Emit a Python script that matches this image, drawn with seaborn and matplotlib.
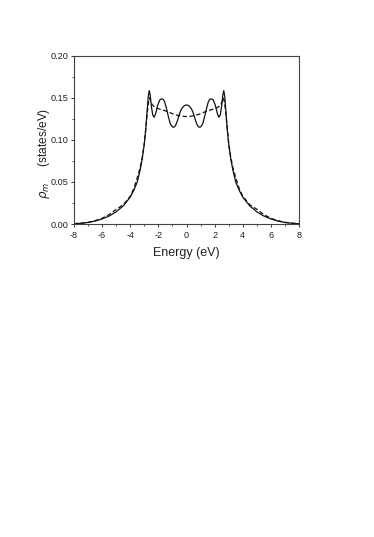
import numpy as np
import pandas as pd
import matplotlib
matplotlib.use("Agg")
import matplotlib.pyplot as plt
from matplotlib.ticker import MultipleLocator
import seaborn as sns

# Solid curve (half, x <= 0), mirrored for x > 0
solid_x_half = [-8.0, -7.5, -7.0, -6.5, -6.0, -5.5, -5.0, -4.5, -4.0, -3.75, -3.5, -3.3,
                -3.15, -3.0, -2.9, -2.8, -2.72, -2.65, -2.58, -2.5, -2.4, -2.3, -2.2,
                -2.05, -1.9, -1.75, -1.65, -1.55, -1.42, -1.28, -1.15, -1.02, -0.9,
                -0.78, -0.65, -0.5, -0.35, -0.2, -0.1, 0.0]
solid_y_half = [0.0003, 0.0008, 0.0018, 0.0035, 0.0060, 0.0095, 0.0145, 0.0215, 0.0320,
                0.0400, 0.0500, 0.0640, 0.0770, 0.0950, 0.1120, 0.1340, 0.1515, 0.1585,
                0.1530, 0.1400, 0.1295, 0.1268, 0.1310, 0.1410, 0.1475, 0.1488, 0.1480,
                0.1450, 0.1370, 0.1270, 0.1190, 0.1155, 0.1150, 0.1170, 0.1225, 0.1310,
                0.1370, 0.1400, 0.1411, 0.1414]

# Dashed curve (half, x <= 0), mirrored for x > 0
dash_x_half = [-8.0, -7.5, -7.0, -6.5, -6.0, -5.5, -5.0, -4.5, -4.0, -3.75, -3.5, -3.3,
               -3.15, -3.0, -2.9, -2.8, -2.7, -2.62, -2.55, -2.45, -2.3, -2.1, -1.8,
               -1.5, -1.2, -0.9, -0.6, -0.3, 0.0]
dash_y_half = [0.0004, 0.0010, 0.0020, 0.0040, 0.0068, 0.0112, 0.0175, 0.0228, 0.0330,
               0.0420, 0.0550, 0.0670, 0.0790, 0.0960, 0.1130, 0.1310, 0.1450, 0.1500,
               0.1460, 0.1420, 0.1395, 0.1375, 0.1360, 0.1345, 0.1325, 0.1305, 0.1290,
               0.1280, 0.1277]

solid_x = solid_x_half + [-v for v in solid_x_half[-2::-1]]
solid_y = solid_y_half + solid_y_half[-2::-1]
dash_x = dash_x_half + [-v for v in dash_x_half[-2::-1]]
dash_y = dash_y_half + dash_y_half[-2::-1]

df = pd.concat([
    pd.DataFrame({"E": solid_x, "rho": solid_y, "kind": "solid"}),
    pd.DataFrame({"E": dash_x, "rho": dash_y, "kind": "dashed"}),
], ignore_index=True)

sns.set_style("white")
plt.rcParams['font.family'] = ['Liberation Sans', 'DejaVu Sans']
plt.rcParams['mathtext.fontset'] = 'dejavusans'
plt.rcParams['axes.unicode_minus'] = False

fig = plt.figure(figsize=(3.74, 5.37), dpi=100)
ax = fig.add_axes([74/374, 1-224/537, 225/374, (224-55.7)/537])

sns.lineplot(data=df[df.kind == "solid"], x="E", y="rho", ax=ax, color="#111111",
             linewidth=0.9, sort=False, estimator=None)
sns.lineplot(data=df[df.kind == "dashed"], x="E", y="rho", ax=ax, color="#111111",
             linewidth=0.9, sort=False, estimator=None, dashes=False,
             linestyle=(0, (3.5, 2.0)))

ax.set_xlim(-8, 8)
ax.set_ylim(0, 0.20)
ax.xaxis.set_major_locator(MultipleLocator(2))
ax.xaxis.set_minor_locator(MultipleLocator(1))
ax.yaxis.set_major_locator(MultipleLocator(0.05))
ax.yaxis.set_minor_locator(MultipleLocator(0.025))
ax.yaxis.set_major_formatter(matplotlib.ticker.FormatStrFormatter('%.2f'))
ax.tick_params(which='major', direction='out', length=2.5, width=0.7, labelsize=6.6,
               pad=1.8, color='#333333', labelcolor='#222222', bottom=True, left=True)
ax.tick_params(axis='x', which='major', pad=2.8)
ax.tick_params(which='minor', direction='out', length=1.5, width=0.6, color='#333333',
               bottom=True, left=True)
for s in ax.spines.values():
    s.set_linewidth(0.8)
    s.set_color('#444444')

ax.set_xlabel("Energy (eV)", fontsize=9.0, labelpad=5, color='#222222')
ax.set_ylabel(r"$\rho_m$     (states/eV)", fontsize=8.6, color='#222222')
ax.yaxis.set_label_coords(-0.10, 0.42)

fig.savefig("out.png", dpi=100)
